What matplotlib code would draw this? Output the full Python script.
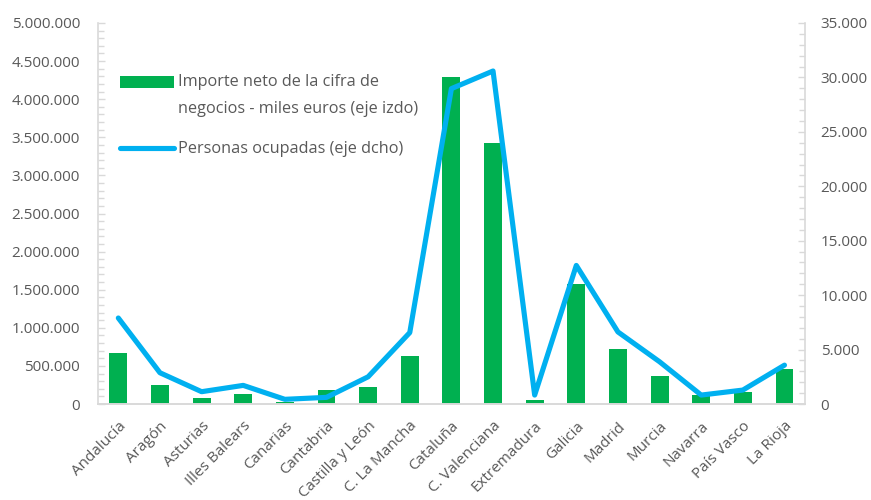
import matplotlib
matplotlib.use("Agg")
import matplotlib.pyplot as plt
from matplotlib.ticker import MultipleLocator, FuncFormatter
from matplotlib.legend_handler import HandlerPatch
from matplotlib.patches import Rectangle

regions = ["Andalucía", "Aragón", "Asturias", "Illes Balears", "Canarias", "Cantabria",
           "Castilla y León", "C. La Mancha", "Cataluña", "C. Valenciana", "Extremadura",
           "Galicia", "Madrid", "Murcia", "Navarra", "País Vasco", "La Rioja"]
importe = [670000, 250000, 80000, 130000, 20000, 185000, 220000, 630000, 4290000,
           3420000, 55000, 1580000, 720000, 365000, 120000, 155000, 460000]
personas = [7900, 2870, 1130, 1710, 430, 610, 2500, 6560, 28970, 30590, 820,
            12730, 6620, 3880, 820, 1280, 3570]

label_bar = "Importe neto de la cifra de\nnegocios - miles euros (eje izdo)"
label_line = "Personas ocupadas (eje dcho)"

GREEN = "#00B050"
BLUE = "#00B0F0"
TXT = "#595959"
GRID = "#D9D9D9"

plt.rcParams['font.family'] = ['Open Sans', 'DejaVu Sans']
FS = 11
LFS = 11.7

fig = plt.figure(figsize=(8.71, 5.0), dpi=100)
ax = fig.add_axes([97.5/871, 96/500, (805.3-97.5)/871, (404-23)/500])
ax2 = ax.twinx()

x = list(range(len(regions)))
bars = ax.bar(x, importe, width=0.43, color=GREEN, zorder=2)
line, = ax2.plot(x, personas, color=BLUE, lw=3.7, solid_capstyle='round',
                 solid_joinstyle='round', zorder=3)

ax.set_xlim(-0.5, len(regions) - 0.5)
ax.set_ylim(0, 5000000)
ax2.set_ylim(0, 35000)

fmt = FuncFormatter(lambda v, p: f"{int(round(v)):,}".replace(",", "."))
ax.yaxis.set_major_locator(MultipleLocator(500000))
ax.yaxis.set_minor_locator(MultipleLocator(100000))
ax.yaxis.set_major_formatter(fmt)
ax2.yaxis.set_major_locator(MultipleLocator(5000))
ax2.yaxis.set_minor_locator(MultipleLocator(1000))
ax2.yaxis.set_major_formatter(fmt)

for a in (ax, ax2):
    for s in a.spines.values():
        s.set_color(GRID)
        s.set_linewidth(1.2)
    a.spines['top'].set_visible(False)
    a.tick_params(axis='y', which='both', direction='in', color=GRID, labelcolor=TXT,
                  labelsize=FS, width=1.0)
    a.tick_params(axis='y', which='major', length=5)
    a.tick_params(axis='y', which='minor', length=4)
ax2.spines['left'].set_visible(False)
ax.spines['right'].set_visible(False)
ax.tick_params(axis='y', which='major', pad=12.5)
ax2.tick_params(axis='y', which='major', pad=11)

ax.set_xticks(x)
ax.set_xticklabels(regions, rotation=45, ha='right', va='top', rotation_mode='anchor',
                   color=TXT, fontsize=FS)
ax.tick_params(axis='x', length=0, pad=10.5)


class ShiftedPatch(HandlerPatch):
    def __init__(self, shift, **kw):
        super().__init__(**kw)
        self.shift = shift

    def create_artists(self, legend, orig_handle, xdescent, ydescent, width, height,
                       fontsize, trans):
        h = 0.72 * fontsize
        p = Rectangle((-xdescent, -ydescent + self.shift + (height - h) / 2), width, h,
                      facecolor=GREEN, edgecolor='none', transform=trans)
        return [p]


leg = ax.legend([bars, line], [label_bar, label_line], loc='upper left',
                bbox_to_anchor=(0.032, 0.866), borderaxespad=0, borderpad=0,
                frameon=False, fontsize=LFS, handlelength=3.3, handletextpad=0.27,
                labelspacing=1.5,
                handler_map={bars: ShiftedPatch(shift=10.0)})
for t in leg.get_texts():
    t.set_color(TXT)
    t.set_linespacing(1.92)

fig.savefig("out.png", dpi=100)
